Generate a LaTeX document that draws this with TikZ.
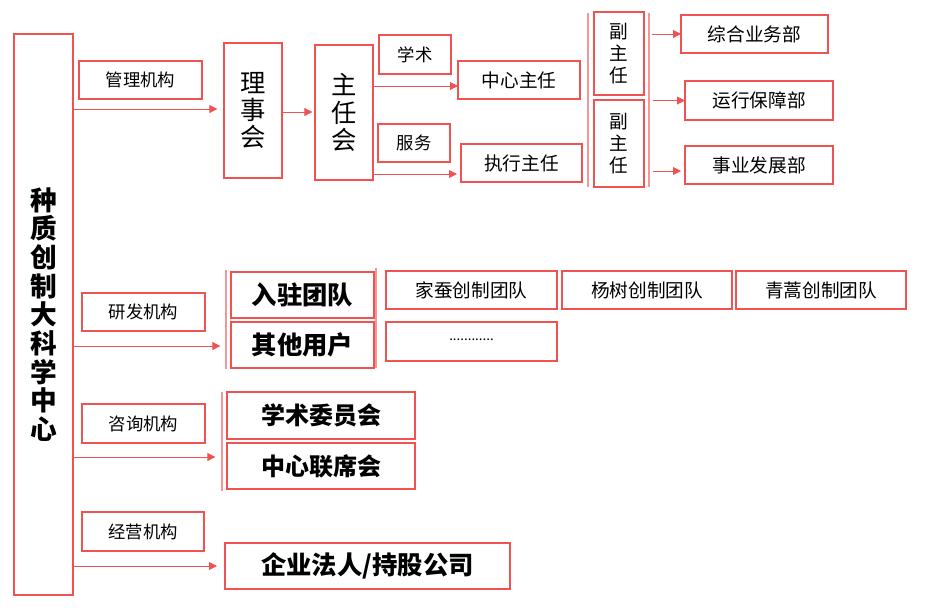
\documentclass[tikz,border=0pt]{standalone}
\usepackage{fontspec}
\setmainfont{Noto Sans CJK SC}
\usetikzlibrary{arrows.meta}
\definecolor{lred}{RGB}{240,82,82}
\tikzset{
  box/.style={draw=lred, line width=0.8pt, rectangle, inner sep=0pt, outer sep=0pt, align=center},
  lab/.style={box, font=\fontsize{13}{15}\selectfont},
  mid/.style={box, font=\fontsize{14}{16}\selectfont},
  big/.style={box, font=\fontsize{19}{21}\selectfont\bfseries},
  arr/.style={draw=lred, line width=0.7pt, -{Triangle[length=6pt,width=6pt]}},
  brk/.style={draw=lred!60, line width=0.8pt}
}
% box from corners in pixels
\newcommand\bx[7]{\node[#6, minimum width={(#4-#2)*0.75pt}, minimum height={(#5-#3)*0.75pt}] (#1) at ({(#2+#4)/2},{(#3+#5)/2}) {#7};}
\begin{document}
\begin{tikzpicture}[x=0.75pt,y=-0.75pt]
\useasboundingbox (0,0) rectangle (927,611);

% centre
\bx{ctr}{14}{34}{73}{595}{box, font=\fontsize{20}{21.5}\selectfont\bfseries}{种\\质\\创\\制\\大\\科\\学\\中\\心}

% management
\bx{gl}{79}{61}{202}{99}{lab}{管理机构}
\bx{lsh}{224}{43}{282}{178}{box, font=\fontsize{19}{20.5}\selectfont}{理\\事\\会}
\bx{zrh}{315}{45}{373}{180}{box, font=\fontsize{19}{20.5}\selectfont}{主\\任\\会}
\bx{xs}{379}{35}{451}{74}{lab}{学术}
\bx{fw}{378}{124}{450}{162}{lab}{服务}
\bx{zxzr}{458}{61}{580}{99}{mid}{中心主任}
\bx{zhzr}{461}{144}{582}{182}{mid}{执行主任}
\bx{fzr1}{594}{12}{644}{95}{box, font=\fontsize{14}{16.5}\selectfont}{副\\主\\任}
\bx{fzr2}{594}{100}{644}{187}{box, font=\fontsize{14}{16.5}\selectfont}{副\\主\\任}
\bx{zh}{681}{15}{828}{53}{mid}{综合业务部}
\bx{yx}{685}{81}{833}{120}{mid}{运行保障部}
\bx{sy}{685}{146}{833}{184}{mid}{事业发展部}

\draw[arr] (ctr.east |- 0,109) -- ([xshift=-5pt]lsh.west |- 0,109);
\draw[arr] (lsh.east |- 0,112) -- ([xshift=-2pt]zrh.west |- 0,112);
\draw[arr] (zrh.east |- 0,86) -- (zxzr.west |- 0,86);
\draw[arr] (zrh.east |- 0,174) -- ([xshift=-3pt]zhzr.west |- 0,174);
\draw[brk] (588,13) coordinate (bl1) -- (588,187) coordinate (bl2);
\draw[brk] (649,13) coordinate (br1) -- (649,187) coordinate (br2);
\draw[arr] ([xshift=2pt]br1 |- zh) -- (zh.west);
\draw[arr] ([xshift=3pt]br1 |- yx) -- (yx.west);
\draw[arr] ([xshift=3pt]br1 |- 0,171) -- ([xshift=-3pt]sy.west |- 0,171);

% research
\bx{yf}{82}{293}{205}{331}{lab}{研发机构}
\bx{rz}{231}{272}{374}{318}{big}{入驻团队}
\bx{qt}{231}{322}{374}{368}{big}{其他用户}
\bx{jc}{386}{271}{557}{309}{mid}{家蚕创制团队}
\bx{ys}{562}{271}{732}{309}{mid}{杨树创制团队}
\bx{qh}{736}{271}{906}{309}{mid}{青蒿创制团队}
\bx{dd}{386}{322}{557}{361}{mid}{\raisebox{3pt}{\fontsize{10}{10}\selectfont ............}}
\draw[brk] (226,270) coordinate (rb1) -- (226,369) coordinate (rb2);
\draw[brk] (376,268) coordinate (rb3) -- (376,368) coordinate (rb4);
\draw[arr] (ctr.east |- 0,346) -- ([xshift=-8pt]rz.west |- 0,346);

% consulting
\bx{zx}{82}{404}{205}{443}{lab}{咨询机构}
\bx{xw}{227}{392}{415}{439}{box, font=\fontsize{18}{20}\selectfont\bfseries}{学术委员会}
\bx{lx}{227}{443}{415}{489}{box, font=\fontsize{18}{20}\selectfont\bfseries}{中心联席会}
\draw[brk] (222,392) coordinate (cb1) -- (222,491) coordinate (cb2);
\draw[arr] (ctr.east |- 0,457) -- ([xshift=-5pt]cb1 |- 0,457);

% business
\bx{jy}{82}{512}{204}{551}{lab}{经营机构}
\bx{qy}{225}{543}{510}{589}{big}{企业法人/持股公司}
\draw[arr] (ctr.east |- 0,566) -- ([xshift=-6pt]qy.west |- 0,566);
\end{tikzpicture}
\end{document}
